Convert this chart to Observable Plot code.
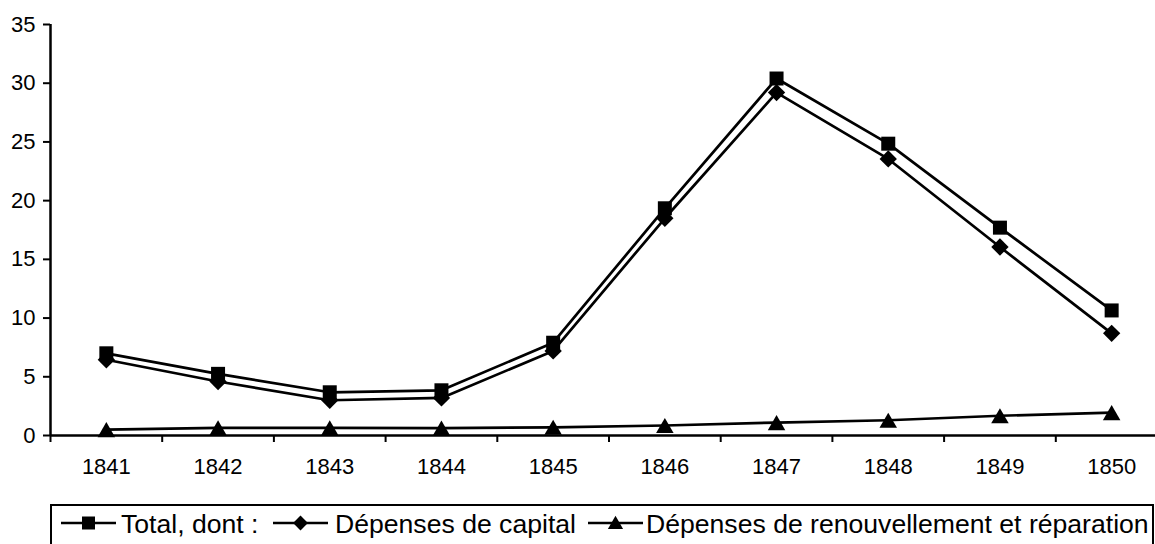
<!DOCTYPE html>
<html>
<head>
<meta charset="utf-8">
<script src="https://cdn.jsdelivr.net/npm/d3@7"></script>
<script src="https://cdn.jsdelivr.net/npm/@observablehq/plot@0.6"></script>
<style>
  html, body { margin: 0; padding: 0; background: #fff; }
  #chart svg { display: block; }
  #legend { display: block; }
</style>
</head>
<body>
<div id="chart"></div>
<script>
// ---- data ----
const years = [1841, 1842, 1843, 1844, 1845, 1846, 1847, 1848, 1849, 1850];
const total = [7.0, 5.25, 3.68, 3.85, 7.9, 19.35, 30.4, 24.85, 17.7, 10.65];
const capital = [6.45, 4.6, 3.0, 3.2, 7.2, 18.5, 29.2, 23.55, 16.05, 8.7];
const renouvellement = [0.5, 0.65, 0.65, 0.62, 0.7, 0.85, 1.1, 1.3, 1.68, 1.95];
const seriesNames = ["Total, dont :", "Dépenses de capital", "Dépenses de renouvellement et réparation"];
const seriesSymbols = ["square", "diamond2", "triangle"];
const yTicks = [0, 5, 10, 15, 20, 25, 30, 35];

const seriesValues = [total, capital, renouvellement];
const rows = [];
seriesValues.forEach((vals, si) => {
  vals.forEach((v, i) => rows.push({year: years[i], series: seriesNames[si], value: v}));
});
const boundaries = years.map(y => y - 0.5);
const xDomain = [years[0] - 0.5, years[years.length - 1] + 0.5];
const yDomain = [yTicks[0], yTicks[yTicks.length - 1]];

const font = "'Liberation Sans', Arial, sans-serif";

const markerR = {"square": 7.9, "diamond2": 7.8, "triangle": 6.5};
const markerDy = {"square": 0, "diamond2": 0, "triangle": 2.5};

const marks = [
  Plot.ruleY([yDomain[0]], {stroke: "black", strokeWidth: 2.5}),
  Plot.ruleX([xDomain[0]], {y1: yDomain[0], y2: yDomain[1], stroke: "black", strokeWidth: 2.5}),
  Plot.axisY({ticks: yTicks, tickSize: 7, tickPadding: 8, label: null, strokeWidth: 2, fontSize: 22, tickFormat: d => String(d)}),
  Plot.axisX({ticks: boundaries, tickSize: 7, label: null, strokeWidth: 2, tickFormat: () => ""}),
  Plot.axisX({ticks: years, tickSize: 0, tickPadding: 23, label: null, fontSize: 22, tickFormat: d => String(d)}),
  Plot.line(rows, {x: "year", y: "value", z: "series", stroke: "black", strokeWidth: 2.7})
];
seriesNames.forEach((name, si) => {
  const sym = seriesSymbols[si];
  marks.push(Plot.dot(rows.filter(r => r.series === name), {
    x: "year", y: "value", symbol: () => sym, r: markerR[sym], dy: markerDy[sym],
    fill: "black", stroke: "none"
  }));
});

const plotHeight = 490;
const chart = Plot.plot({
  width: 1155,
  height: plotHeight,
  marginLeft: 50,
  marginRight: 0,
  marginTop: 24,
  marginBottom: 55,
  x: {type: "linear", domain: xDomain, range: [50, 1167]},
  y: {domain: yDomain},
  symbol: {type: "identity"},
  style: {fontFamily: font, fontSize: "22px", color: "black", background: "white", overflow: "visible"},
  marks
});
document.getElementById("chart").appendChild(chart);

// ---- legend ----
const legendH = 544 - plotHeight;
const svg = d3.select("body").append("svg")
  .attr("id", "legend")
  .attr("width", 1155)
  .attr("height", legendH)
  .style("font-family", font);
svg.append("rect")
  .attr("x", 51).attr("y", 505 - plotHeight)
  .attr("width", 1102).attr("height", 80)
  .attr("fill", "white").attr("stroke", "black").attr("stroke-width", 2);

const cy = 523 - plotHeight;
const items = [
  {x1: 61, x2: 116, tx: 121},
  {x1: 273, x2: 328, tx: 335},
  {x1: 588, x2: 643, tx: 646}
];
const symMap = {"square": d3.symbolSquare, "diamond2": d3.symbolDiamond2, "triangle": d3.symbolTriangle};
const legendSize = {"square": 13 * 13, "diamond2": 140, "triangle": 100};
items.forEach((it, i) => {
  const g = svg.append("g");
  g.append("line").attr("x1", it.x1).attr("x2", it.x2).attr("y1", cy).attr("y2", cy)
    .attr("stroke", "black").attr("stroke-width", 2.5);
  const sym = seriesSymbols[i];
  g.append("path")
    .attr("d", d3.symbol(symMap[sym], legendSize[sym])())
    .attr("transform", `translate(${(it.x1 + it.x2) / 2},${cy + (sym === "triangle" ? 1.5 : 0)})`)
    .attr("fill", "black");
  g.append("text").attr("x", it.tx).attr("y", cy).attr("dy", "0.36em")
    .attr("font-size", 26.6).attr("fill", "black").text(seriesNames[i]);
});
</script>
</body>
</html>
